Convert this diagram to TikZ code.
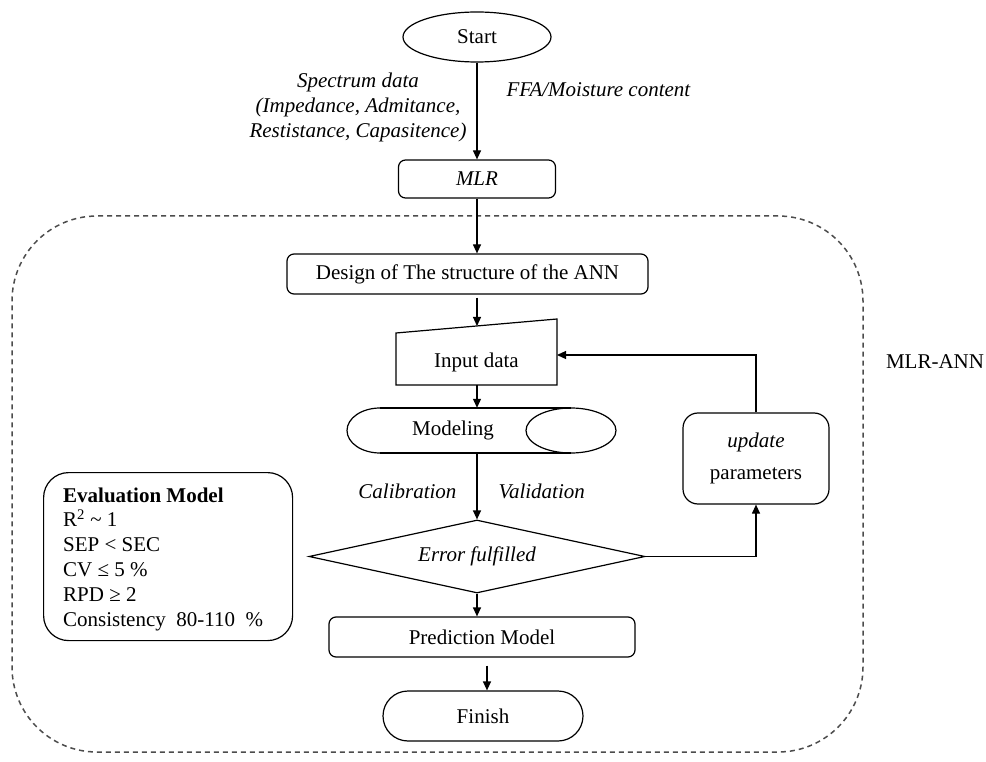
\documentclass[tikz,border=0pt]{standalone}
\usepackage{fontspec}
\setmainfont{Liberation Serif}
\usetikzlibrary{shapes.geometric,shapes.misc,arrows.meta,calc}
\begin{document}
\begin{tikzpicture}[x=1pt,y=-1pt,
  every node/.style={font=\fontsize{21}{24.8}\selectfont},
  line/.style={line width=1.2pt},
  arr/.style={line width=1.2pt,-{Triangle[length=9pt,width=8pt]}},
  box/.style={draw,line width=1.2pt,rounded corners=7pt,inner sep=0pt},
  lbl/.style={font=\fontsize{21}{25}\selectfont\itshape},
  frame/.style={draw=black!70,line width=1.5pt,dash pattern=on 5pt off 4pt,rounded corners=85pt,inner sep=0pt},
]
\useasboundingbox (0,0) rectangle (986,762);

% dashed container
\node[frame,minimum width=851pt,minimum height=536pt] (frame) at (437.5,484) {};
\node (mlrann) at (935,362) {MLR-ANN};

% start
\node[draw,ellipse,line width=1.2pt,minimum width=148pt,minimum height=50pt,inner sep=0pt] (start) at (477,37) {Start};
\node[lbl,align=center] (spec) at (358,107) {Spectrum data\\(Impedance, Admitance,\\Restistance, Capasitence)};
\node[lbl,anchor=west] (ffa) at (503,90) {FFA/Moisture content};

% MLR
\node[box,minimum width=157pt,minimum height=38pt] (mlr) at (477,179) {\itshape MLR};

% design
\node[box,minimum width=361pt,minimum height=40pt] (design) at (467.5,274) {Design of The structure of the ANN};

% input (manual input shape)
\draw[line] (396,333) -- (557,319) -- (557,385) -- (396,385) -- cycle;
\node[inner sep=0pt,minimum width=161pt,minimum height=46pt] (input) at (476.5,362) {Input data};
\coordinate (intop) at (477,326);
\coordinate (inright) at (557,355);

% modeling (horizontal cylinder)
\begin{scope}
  \clip (330,400) rectangle (380,460);
  \draw[line] (380,430.5) ellipse [x radius=33pt,y radius=22.5pt];
\end{scope}
\draw[line] (380,408) -- (571,408);
\draw[line] (380,453) -- (571,453);
\draw[line] (571,430.5) ellipse [x radius=45pt,y radius=22.5pt];
\node[inner sep=0pt,minimum width=269pt,minimum height=45pt] (model) at (481.5,430.5) {};
\node (modeltxt) at (453,430) {Modeling};

\node[lbl,anchor=east] (cal) at (460,491) {Calibration};
\node[lbl,anchor=west] (val) at (495,491) {Validation};

% decision
\node[draw,diamond,line width=1.2pt,aspect=4.6,inner sep=0pt,minimum width=336pt,minimum height=73pt] (err) at (477,556.5) {\itshape Error fulfilled};

% update
\node[box,rounded corners=15pt,minimum width=146pt,minimum height=91pt,align=center] (update) at (756,458.5) {\itshape update\\[7pt]parameters};

% prediction
\node[box,minimum width=306pt,minimum height=40pt] (pred) at (482,637) {Prediction Model};

% finish
\node[draw,rounded rectangle,line width=1.2pt,minimum width=200pt,minimum height=50pt,inner sep=0pt] (fin) at (483,716) {Finish};

% evaluation
\node[box,rounded corners=25pt,minimum width=249pt,minimum height=168pt,anchor=north west] (eval) at (43,472) {};
\node[anchor=west,align=left,inner sep=0pt] (evaltxt) at (63,559) {\textbf{Evaluation Model}\\R\textsuperscript{2} \textasciitilde{} 1\\SEP < SEC\\CV ≤ 5 \%\\RPD ≥ 2\\Consistency\ \ 80-110\ \ \%};

% connectors
\draw[arr] (start.south) -- (start.south |- mlr.north);
\draw[arr] (mlr.south) -- (mlr.south |- design.north);
\draw[arr] ([yshift=-3pt]design.south -| intop) -- (intop);
\draw[arr] (input.south -| intop) -- (intop |- model.north);
\draw[arr] (model.south -| err.north) -- (err.north);
\draw[arr] (err.east) -| (update.south);
\draw[arr] (update.north) |- (inright);
\draw[arr] (err.south) -- (err.south |- pred.north);
\draw[arr] ([yshift=-8pt]pred.south -| fin.north) ++(4,0) -- ([xshift=4pt]fin.north);
\end{tikzpicture}
\end{document}
